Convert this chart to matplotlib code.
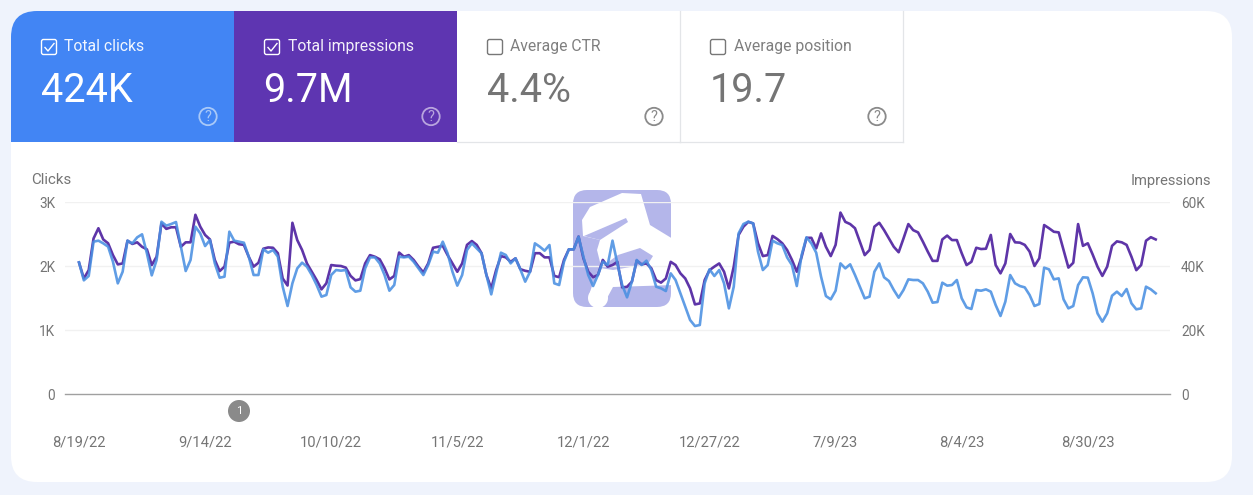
import numpy as np
import matplotlib
matplotlib.use('Agg')
import matplotlib.pyplot as plt
from matplotlib.patches import FancyBboxPatch, Rectangle, Polygon, Circle

plt.rcParams['font.family'] = ['Roboto', 'DejaVu Sans']

W, H = 1253, 495

clicks = [
    2057, 1776, 1844, 2380, 2396, 2354, 2302, 2067, 1729, 1911, 2396, 2354, 2448, 2495, 2198, 1854, 2094, 2692, 2630,
    2656, 2687, 2302, 1922, 2094, 2614, 2510, 2312, 2406, 2041, 1817, 1833, 2536, 2396, 2380, 2364, 2146, 1859, 1859,
    2260, 2208, 2250, 2146, 1677, 1375, 1729, 1963, 2052, 1989, 1859, 1703, 1521, 1547, 1859, 1937, 1927, 1937, 1666,
    1599, 1614, 1963, 2135, 2135, 2041, 1859, 1614, 1703, 2146, 2135, 2146, 2067, 1963, 1859, 2015, 2224, 2208,
    2380, 2198, 1911, 1693, 1859, 2250, 2354, 2276, 2198, 1859, 1557, 1885, 2208, 2172, 2041, 2120, 1948, 1755, 1911,
    2354, 2302, 2239, 2328, 1729, 1703, 2067, 2260, 2260, 2458, 2146, 1859, 1687, 1859, 2067, 2015, 2396, 2041,
    1703, 1510, 1755, 2094, 2015, 2083, 1937, 1677, 1651, 1609, 1885, 1781, 1573, 1364, 1156, 1062, 1078, 1729, 1948,
    1844, 1937, 1729, 1338, 1677, 2510, 2656, 2692, 2666, 2224, 1937, 2015, 2396, 2354, 2328, 2135, 2015, 1687,
    2172, 2448, 2354, 2208, 1833, 1531, 1479, 1614, 2041, 1963, 2026, 1859, 1677, 1495, 1521, 1911, 2041, 1823, 1765,
    1625, 1505, 1625, 1791, 1781, 1781, 1729, 1599, 1427, 1437, 1739, 1693, 1703, 1781, 1495, 1354, 1328, 1625,
    1614, 1635, 1599, 1390, 1219, 1443, 1859, 1729, 1687, 1666, 1547, 1375, 1406, 1974, 1948, 1791, 1807, 1479, 1338,
    1375, 1703, 1823, 1818, 1573, 1260, 1130, 1260, 1536, 1599, 1531, 1640, 1417, 1323, 1338, 1677, 1635, 1573,
]
impressions = [
    41100, 36100, 38700, 48600, 51800, 48300, 47100, 43400, 40500, 40800, 47900, 46900, 47400, 46000, 45200, 40300,
    42900, 53300, 51600, 52100, 52100, 46000, 47400, 47400, 56000, 52300, 49700, 48300, 41900, 38400, 39800, 47300,
    47600, 46800, 46600, 42900, 39800, 41000,
    45400, 45800, 45700, 44000, 36100, 33900, 53500, 48100, 45000, 40800, 38200, 35600, 32700, 34600, 40300, 40100,
    40000, 39500, 36900, 35500, 35900, 40800, 43400, 42900, 42100, 39300, 35800, 36900, 44200, 42900, 43400, 41900,
    39800, 38000, 40800, 45700, 46000,
    46300, 43400, 40800, 38200, 40800, 46600, 47800, 46600, 44000, 37200, 33000, 38700, 43100, 42700, 41300, 42400,
    39000, 38500, 38200, 44000, 44000, 42700, 42700, 36900, 36500, 41900, 45200, 45200, 49200, 42400, 38200, 36500,
    37200, 41900, 39800, 40300, 41300,
    33300, 33500, 35100, 41700, 40500, 40800, 39300, 35600, 34800, 36100, 41300, 40300, 37700, 36100, 33000, 28000,
    28300, 35600, 38700, 39800, 40800, 38200, 33000, 39800, 49700, 52300, 53800, 53300, 47100, 43100, 43400, 49400,
    48400, 47100, 45000, 41900, 38200,
    42900, 48800, 48800, 45500, 50200, 46000, 43100, 46600, 56700, 53800, 53100, 51800, 47600, 43400, 45000, 52300,
    53500, 51200, 48600, 46000, 44300, 48600, 53100, 51200, 50500, 47600, 44500, 41600, 41600, 48300, 49500, 48100,
    48100, 44000, 40300, 41300, 45700,
    45300, 45400, 49700, 40300, 37700, 40800, 50000, 47400, 47300, 46600, 44500, 40000, 42400, 52800, 51800, 50700,
    50500, 45000, 39500, 41000, 53100, 46300, 47100, 43600, 39800, 36900, 39800, 46300, 47700, 47400, 46600, 42900,
    38700, 40300, 47900, 49000, 48300,
]
date_labels = ['8/19/22', '9/14/22', '10/10/22', '11/5/22', '12/1/22', '12/27/22', '7/9/23', '8/4/23', '8/30/23']
date_idx = [0, 26, 52, 78, 104, 130, 156, 182, 208]
click_ticks = [0, 1000, 2000, 3000]
click_tick_labels = ['0', '1K', '2K', '3K']
impr_ticks = [0, 20000, 40000, 60000]
impr_tick_labels = ['0', '20K', '40K', '60K']

tile_names = ['Total clicks', 'Total impressions', 'Average CTR', 'Average position']
tile_values = ['424K', '9.7M', '4.4%', '19.7']
tile_on = [True, True, False, False]
tile_colors = ['#4285f4', '#5e35b1', 'white', 'white']

GREY = '#757575'
BLUE = '#4a90e2'
PURPLE = '#5e35a8'
WMARK = '#b4b6ea'

fig = plt.figure(figsize=(W / 100, H / 100), dpi=100, facecolor='#eff3fc')

# background layer in pixel coords
bg = fig.add_axes([0, 0, 1, 1])
bg.set_xlim(0, W)
bg.set_ylim(H, 0)
bg.axis('off')

card = FancyBboxPatch((11, 11), 1221, 471, boxstyle='round,pad=0,rounding_size=26', fc='white', ec='none')
bg.add_patch(card)

for i in range(4):
    x0 = 11 + i * 223
    r = Rectangle((x0, 11), 223, 131, fc=tile_colors[i], ec='none')
    bg.add_patch(r)
    r.set_clip_path(card)
    on = tile_on[i]
    fg = 'white' if on else GREY
    if not on:
        bg.plot([x0 + 223, x0 + 223], [11, 142], color='#e3e5e8', lw=0.9)
        bg.plot([x0, x0 + 223], [142, 142], color='#e3e5e8', lw=0.9)
    # checkbox
    box_ec = 'white' if on else '#777777'
    bg.add_patch(FancyBboxPatch((x0 + 30.5, 39.5), 15, 15, boxstyle='round,pad=0,rounding_size=2',
                                fc='none', ec=box_ec, lw=1.0))
    if on:
        bg.plot([x0 + 34, x0 + 37, x0 + 43], [47.5, 51, 43.5], color='white', lw=1.0)
    bg.text(x0 + 53.5, 46.5, tile_names[i], color=fg, fontsize=11.3, va='center', ha='left', alpha=0.93)
    bg.text(x0 + 29.5, 91, tile_values[i], color=fg, fontsize=28.5, va='center', ha='left')
    # help icon
    help_c = (x0 + 197, 116.5)
    help_col = '#a9c9f8' if i == 0 else '#b9a5de' if i == 1 else '#8a8a8a'
    bg.add_patch(Circle(help_c, 8.7, fc='none', ec=help_col, lw=1.3))
    bg.text(help_c[0], help_c[1] + 0.3, '?', color=help_col, fontsize=10.5, va='center', ha='center')

# watermark behind the lines
wm = FancyBboxPatch((573, 190), 98, 117, boxstyle='round,pad=0,rounding_size=14', fc=WMARK, ec='none')
bg.add_patch(wm)
white_shape = [(582, 220), (590, 207), (622, 193), (641, 194), (650, 225), (673, 239), (674, 285), (613, 287),
               (606, 300), (600, 300), (590, 292), (593, 283), (600, 272), (600, 262), (597, 250),
               (600, 240), (583, 236)]
bg.add_patch(Polygon(white_shape, closed=True, fc='white', ec='none'))
bg.add_patch(Circle((598, 298), 10, fc='white', ec='none'))
bg.add_patch(Polygon([(584, 236), (626, 218), (628, 222), (600, 240)], closed=True, fc=WMARK, ec='none'))
bg.add_patch(Polygon([(600, 268), (618, 255), (640, 248), (653, 256), (648, 264), (613, 270)], closed=True,
                     fc=WMARK, ec='none'))

# marker for the annotation
bg.add_patch(Circle((239, 411), 11, fc='#8a8a8a', ec='none'))
bg.text(239, 411, '1', color='white', fontsize=8, va='center', ha='center')

bg.text(31, 180.5, 'Clicks', color=GREY, fontsize=10.8, va='center', ha='left')
bg.text(1211, 180.5, 'Impressions', color=GREY, fontsize=10.6, va='center', ha='right')

# chart
x = np.arange(len(clicks))
px_per_day = 4.85
ax = fig.add_axes([65 / W, 1 - 394 / H, (1170 - 65) / W, (394 - 202) / H])
ax2 = ax.twinx()
ax.set_zorder(ax2.get_zorder() + 1)
ax.patch.set_visible(False)
ax2.patch.set_visible(False)

ax2.plot(x, impressions, color=PURPLE, lw=1.9, solid_joinstyle='round')
ax.plot(x, clicks, color=BLUE, lw=1.9, alpha=0.88, solid_joinstyle='round')

ax.set_xlim((65 - 79) / px_per_day, (1170 - 79) / px_per_day)
ax.set_ylim(0, 3000)
ax2.set_ylim(0, 60000)

ax.set_yticks(click_ticks)
ax.set_yticklabels(click_tick_labels)
ax2.set_yticks(impr_ticks)
ax2.set_yticklabels(impr_tick_labels)
ax.set_xticks(date_idx)
ax.set_xticklabels(date_labels)

ax.tick_params(axis='y', length=0, pad=7, labelsize=9.8, labelcolor=GREY)
ax2.tick_params(axis='y', length=0, pad=8, labelsize=9.8, labelcolor=GREY)
ax.tick_params(axis='x', length=0, pad=30, labelsize=10.6, labelcolor=GREY)

for a in (ax, ax2):
    for s in a.spines.values():
        s.set_visible(False)
ax.spines['bottom'].set_visible(True)
ax.spines['bottom'].set_color('#a0a0a0')
ax.spines['bottom'].set_linewidth(1)

for v in click_ticks[1:]:
    ax2.axhline(v * 20, color='#f1f1f1', lw=1, zorder=0)

fig.savefig('out.png', dpi=100, facecolor=fig.get_facecolor())
